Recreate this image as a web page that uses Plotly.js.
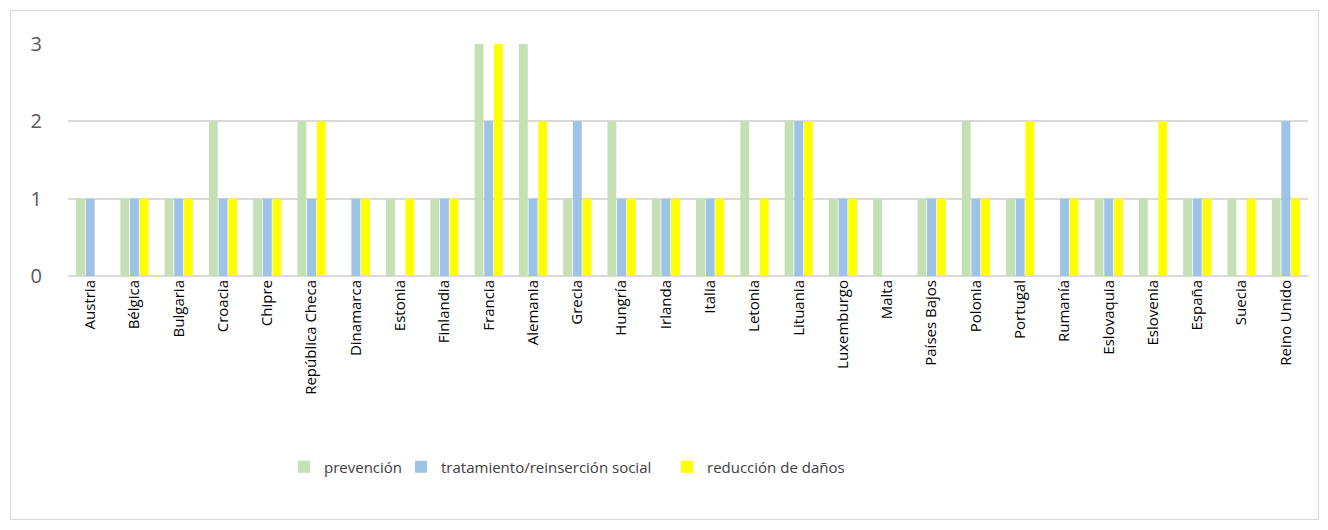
<!DOCTYPE html>
<html>
<head>
<meta charset="utf-8">
<script src="https://cdn.plot.ly/plotly-3.0.1.min.js"></script>
<style>
html,body{margin:0;padding:0;background:#fff;overflow:hidden;}
#frame{position:absolute;left:10px;top:10px;width:1307px;height:508px;border:1.5px solid #d9d9d9;pointer-events:none;z-index:2;}
#chart{position:absolute;left:0;top:0;width:1328px;height:530px;}
</style>
</head>
<body>
<div id="chart"></div>
<div id="frame"></div>
<script>
const countries = ["Austria","Bélgica","Bulgaria","Croacia","Chipre","República Checa","Dinamarca","Estonia","Finlandia","Francia","Alemania","Grecia","Hungría","Irlanda","Italia","Letonia","Lituania","Luxemburgo","Malta","Países Bajos","Polonia","Portugal","Rumanía","Eslovaquia","Eslovenia","España","Suecia","Reino Unido"];
const prevencion = [1,1,1,2,1,2,0,1,1,3,3,1,2,1,1,2,2,1,1,1,2,1,0,1,1,1,1,1];
const tratamiento = [1,1,1,1,1,1,1,0,1,2,1,2,1,1,1,0,2,1,0,1,1,1,1,1,0,1,0,2];
const reduccion = [0,1,1,1,1,2,1,1,1,3,2,1,1,1,1,1,2,1,0,1,1,2,1,1,2,1,1,1];
const seriesNames = ["prevención","tratamiento/reinserción social","reducción de daños"];
const yTicks = [0,1,2,3];

const colors = ["#c5e0b4","#9dc3e6","#ffff00"];
const legendIds = ["legend","legend2","legend3"];
const data = [prevencion, tratamiento, reduccion].map((v,i)=>({
  type:"bar", x:countries, y:v, name:seriesNames[i],
  marker:{color:colors[i], line:{width:0}},
  legend: legendIds[i],
  hoverinfo:"x+y+name"
}));

const L = 68, R = 1308, T = 44, B = 276;
const px2x = p => (p - L) / (R - L);
const px2y = p => (B - p) / (B - T);

const legendFont = {family:"Open Sans, sans-serif", size:15, color:"#404040"};
const mkLegend = (xpx)=>({x:px2x(xpx), xanchor:"left", y:px2y(467), yanchor:"middle", orientation:"h", font:legendFont, bgcolor:"rgba(0,0,0,0)", itemwidth:30, borderwidth:0});

const layout = {
  width:1328, height:530,
  margin:{l:L, r:1328-R, t:T, b:530-B},
  paper_bgcolor:"#fff", plot_bgcolor:"#fff",
  barmode:"group", bargap:0.345, bargroupgap:0.08,
  font:{family:"Open Sans, sans-serif", color:"#000"},
  xaxis:{
    tickangle:-90, tickfont:{family:"Open Sans, sans-serif", size:15, color:"#000"},
    showgrid:false, showline:false, ticks:"", fixedrange:true
  },
  yaxis:{
    range:[0,3], tickvals:yTicks, ticktext:yTicks.map(String),
    tickfont:{family:"Open Sans, sans-serif", size:20, color:"#595959"},
    gridcolor:"#d9d9d9", gridwidth:2, zeroline:true, zerolinecolor:"#d9d9d9", zerolinewidth:2,
    showline:false, ticks:"", ticklabelstandoff:25, fixedrange:true
  },
  showlegend:true,
  legend: mkLegend(284),
  legend2: mkLegend(401),
  legend3: mkLegend(667)
};

Plotly.newPlot("chart", data, layout, {displayModeBar:false, staticPlot:true});
</script>
</body>
</html>
